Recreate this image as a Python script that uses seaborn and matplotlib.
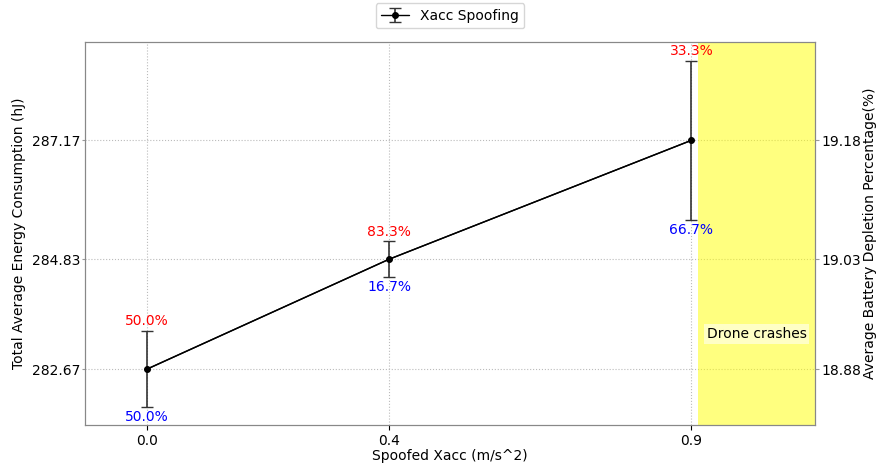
import matplotlib
matplotlib.use("Agg")
import matplotlib.pyplot as plt
import seaborn as sns
import numpy as np
import pandas as pd

# Spoofed acceleration levels and the resulting energy use
xacc = [0.0, 0.4, 0.9]
energy = [282.67, 284.83, 287.17]
energy_err = [0.75, 0.35, 1.57]
battery_ticks = ["18.88", "19.03", "19.18"]
upper_pct = ["50.0%", "83.3%", "33.3%"]
lower_pct = ["50.0%", "16.7%", "66.7%"]

df = pd.DataFrame({"xacc": xacc, "energy": energy})

sns.set_style("white")
plt.rcParams["font.family"] = ["DejaVu Sans"]
plt.rcParams.update({"text.color": "black", "axes.labelcolor": "black",
                     "xtick.color": "black", "ytick.color": "black"})

fig, ax = plt.subplots(figsize=(8.79, 4.69), dpi=100)
fig.subplots_adjust(left=0.097, right=0.927, top=0.91, bottom=0.094)

sns.lineplot(data=df, x="xacc", y="energy", ax=ax, color="black", lw=1,
             marker="o", markersize=4, markeredgewidth=0, legend=False)
ax.errorbar(xacc, energy, yerr=energy_err, fmt="o-", color="black", lw=1,
            markersize=4, ecolor="#333333", elinewidth=1.2, capsize=4,
            label="Xacc Spoofing")

for x, y, e, up, lo in zip(xacc, energy, energy_err, upper_pct, lower_pct):
    ax.annotate(up, (x, y + e), xytext=(0, 2), textcoords="offset points",
                ha="center", va="bottom", color="red", fontsize=10)
    ax.annotate(lo, (x, y - e), xytext=(0, -2), textcoords="offset points",
                ha="center", va="top", color="blue", fontsize=10)

ax.axvspan(0.91, 1.2, color="yellow", alpha=0.5, lw=0)
ax.text(1.0075, 283.36, "Drone crashes", ha="center", va="center", fontsize=10,
        bbox=dict(facecolor="white", edgecolor="none", alpha=0.55, pad=2))

ax.set_xlim(-0.1025, 1.104)
ax.set_ylim(281.57, 289.1)
ax.set_xticks(xacc)
ax.set_xticklabels([f"{v:.1f}" for v in xacc])
ax.set_yticks(energy)
ax.set_yticklabels([f"{v:.2f}" for v in energy])
ax.grid(True, linestyle=":", color="#bbbbbb", lw=0.8)
ax.tick_params(axis="x", labelsize=10, length=3.5, pad=3, bottom=True)
ax.tick_params(axis="y", labelsize=10, length=2.5, pad=1, left=True,
               color="#999999")
ax.set_xlabel("Spoofed Xacc (m/s^2)", fontsize=10, labelpad=1)
ax.set_ylabel("Total Average Energy Consumption (hJ)", fontsize=10, labelpad=4)
for s in ax.spines.values():
    s.set_color("#888888")

ax2 = ax.twinx()
ax2.set_ylim(ax.get_ylim())
ax2.set_yticks(energy)
ax2.set_yticklabels(battery_ticks)
ax2.tick_params(axis="y", labelsize=10, length=3, pad=1.8, right=True,
                color="#999999")
ax2.set_ylabel("Average Battery Depletion Percentage(%)", fontsize=10,
               labelpad=1.5)
for s in ax2.spines.values():
    s.set_color("#888888")

ax.legend(loc="upper center", bbox_to_anchor=(0.5, 1.12), fontsize=10,
          frameon=True, handlelength=2)

fig.savefig("out.png", dpi=100)
